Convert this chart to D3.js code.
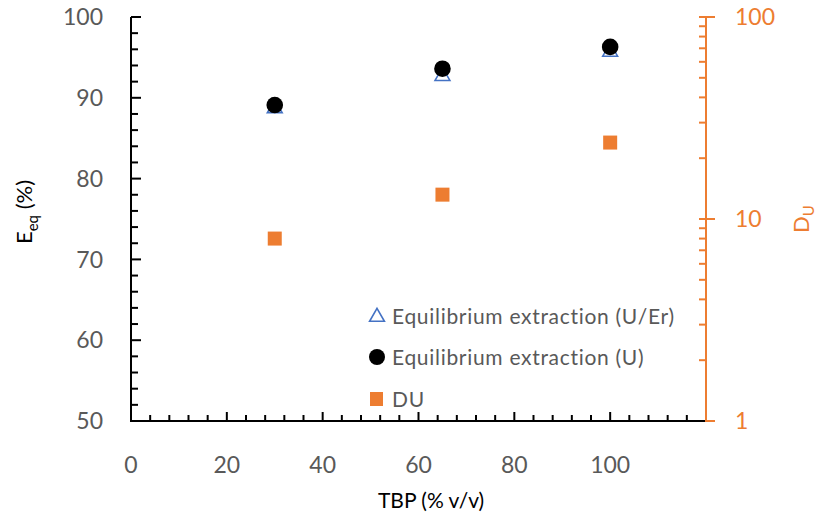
<!DOCTYPE html>
<html>
<head>
<meta charset="utf-8">
<title>TBP extraction</title>
<script src="https://d3js.org/d3.v7.min.js"></script>
<style>
  body { margin: 0; background: #fff; }
  svg { font-family: Lato, "Open Sans", sans-serif; }
</style>
</head>
<body>
<div id="chart"></div>
<script>
// Data
var tbp = [30, 65, 100];
var extractionUEr = [88.8, 92.8, 95.8];
var extractionU = [89.1, 93.6, 96.3];
var distributionU = [8.0, 13.2, 23.9];

var xTicks = [0, 20, 40, 60, 80, 100];
var yLeftTicks = [50, 60, 70, 80, 90, 100];
var yRightTicks = [1, 10, 100];
var legendLabels = ["Equilibrium extraction (U/Er)", "Equilibrium extraction (U)", "DU"];

var W = 817, H = 518;
var grey = "#595959", orange = "#ED7D31", blue = "#4472C4";

var x = d3.scaleLinear().domain([0, 120]).range([131, 706]);
var yL = d3.scaleLinear().domain([50, 100]).range([421, 17]);
var yR = d3.scaleLog().domain([1, 100]).range([421, 17]);

var svg = d3.select("#chart").append("svg")
  .attr("width", W).attr("height", H);

// minor ticks
var xMinor = d3.range(0, 121, 4);
var yMinor = d3.range(50, 100.1, 2);
var rMinor = [];
[1, 10].forEach(function(d) { for (var i = 2; i <= 9; i++) rMinor.push(d * i); });

svg.append("g").selectAll("line").data(xMinor).join("line")
  .attr("x1", d => x(d)).attr("x2", d => x(d))
  .attr("y1", yL.range()[0]).attr("y2", d => yL.range()[0] - (d % 20 === 0 ? 9 : 6))
  .attr("stroke", "#000").attr("stroke-width", 2);

svg.append("g").selectAll("line").data(yMinor).join("line")
  .attr("x1", x(0)).attr("x2", d => x(0) + (d % 10 === 0 ? 10 : 7))
  .attr("y1", d => yL(d)).attr("y2", d => yL(d))
  .attr("stroke", "#000").attr("stroke-width", 2);

svg.append("g").selectAll("line").data(rMinor).join("line")
  .attr("x1", x(120)).attr("x2", x(120) - 7)
  .attr("y1", d => yR(d)).attr("y2", d => yR(d))
  .attr("stroke", orange).attr("stroke-width", 2);

svg.append("g").selectAll("line").data(yRightTicks).join("line")
  .attr("x1", x(120) - 7).attr("x2", x(120) + 9)
  .attr("y1", d => yR(d)).attr("y2", d => yR(d))
  .attr("stroke", orange).attr("stroke-width", 2);

// axis lines
svg.append("line")
  .attr("x1", x(0)).attr("x2", x(0)).attr("y1", yL(50) + 1).attr("y2", yL(100))
  .attr("stroke", "#000").attr("stroke-width", 2);
svg.append("line")
  .attr("x1", x(0) - 1).attr("x2", x(120)).attr("y1", yL(50)).attr("y2", yL(50))
  .attr("stroke", "#000").attr("stroke-width", 2);
svg.append("line")
  .attr("x1", x(120)).attr("x2", x(120)).attr("y1", yR(1) + 1).attr("y2", yR(100))
  .attr("stroke", orange).attr("stroke-width", 2);

// tick labels
svg.append("g").selectAll("text").data(yLeftTicks).join("text")
  .attr("x", 103).attr("y", d => yL(d)).attr("dy", "0.36em")
  .attr("text-anchor", "end").attr("font-size", 23).attr("fill", grey)
  .text(d => d);

svg.append("g").selectAll("text").data(xTicks).join("text")
  .attr("x", d => x(d)).attr("y", 473)
  .attr("text-anchor", "middle").attr("font-size", 23).attr("fill", grey)
  .text(d => d);

svg.append("g").selectAll("text").data(yRightTicks).join("text")
  .attr("x", 735).attr("y", d => yR(d)).attr("dy", "0.36em")
  .attr("text-anchor", "start").attr("font-size", 23).attr("fill", orange)
  .text(d => d);

// axis titles
svg.append("text")
  .attr("x", 431).attr("y", 508)
  .attr("text-anchor", "middle").attr("font-size", 21).attr("fill", "#000")
  .text("TBP (% v/v)");

var tl = svg.append("text")
  .attr("transform", "translate(32,212) rotate(-90)")
  .attr("text-anchor", "middle").attr("font-size", 22).attr("fill", "#000");
tl.append("tspan").text("E");
tl.append("tspan").attr("font-size", 15).attr("dy", 6).text("eq");
tl.append("tspan").attr("dy", -6).text(" (%)");

var tr = svg.append("text")
  .attr("transform", "translate(809,219) rotate(-90)")
  .attr("text-anchor", "middle").attr("font-size", 22).attr("fill", orange);
tr.append("tspan").text("D");
tr.append("tspan").attr("font-size", 15).attr("dy", 5).text("U");

// series
var tri = d3.symbol().type(d3.symbolTriangle).size(95);

svg.append("g").selectAll("path").data(tbp).join("path")
  .attr("d", tri)
  .attr("transform", (d, i) => "translate(" + x(d) + "," + (yL(extractionUEr[i]) + 1) + ")")
  .attr("fill", "none").attr("stroke", blue).attr("stroke-width", 1.6);

svg.append("g").selectAll("circle").data(tbp).join("circle")
  .attr("cx", d => x(d)).attr("cy", (d, i) => yL(extractionU[i]))
  .attr("r", 8.3).attr("fill", "#000");

svg.append("g").selectAll("rect").data(tbp).join("rect")
  .attr("x", d => x(d) - 7).attr("y", (d, i) => yR(distributionU[i]) - 7)
  .attr("width", 14).attr("height", 14).attr("fill", orange);

// legend
var lg = svg.append("g");
var ly = [316, 357, 399];
lg.append("path").attr("d", tri)
  .attr("transform", "translate(377," + (ly[0] + 1) + ")")
  .attr("fill", "none").attr("stroke", blue).attr("stroke-width", 1.6);
lg.append("circle").attr("cx", 377).attr("cy", ly[1]).attr("r", 8).attr("fill", "#000");
lg.append("rect").attr("x", 370).attr("y", ly[2] - 7).attr("width", 13).attr("height", 14).attr("fill", orange);
lg.selectAll("text").data(legendLabels).join("text")
  .attr("x", 392).attr("y", (d, i) => ly[i]).attr("dy", "0.36em")
  .attr("font-size", 21).attr("letter-spacing", 0.7).attr("fill", grey)
  .text(d => d);
</script>
</body>
</html>
